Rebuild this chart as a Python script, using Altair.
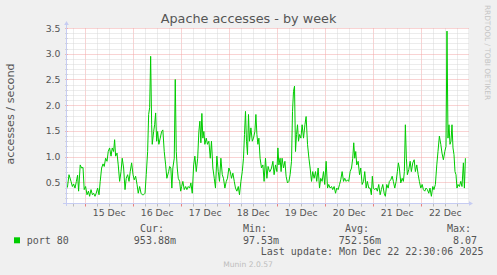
import altair as alt
import pandas as pd

# ---------------- data ----------------
# hours since 15 Dec 00:00
hours = [
    -8.6, -7.8, -6.8, -6.1, -5.5, -4.8, -4.1, -3.5, -3.0, -2.2, -1.5, -0.8, -0.2, 0.5, 1.2, 1.9, 2.5, 3.2, 3.9, 4.5,
    5.2, 5.8, 6.5, 7.2, 7.8, 8.5, 9.2, 9.8, 10.5, 11.2, 11.8, 12.5, 13.2, 13.8, 14.5, 15.0, 15.5, 16.2, 16.8, 17.5,
    18.2, 18.8, 19.5, 20.2, 20.8, 21.5, 22.2, 22.8, 23.5, 24.2, 24.8, 25.5, 26.2, 26.8, 27.5, 28.2, 28.8, 29.5, 30.2, 30.8,
    31.5, 32.0, 32.5, 33.0, 33.5, 33.8, 34.5, 35.0, 35.5, 36.0, 36.5, 37.1, 37.8, 38.5, 39.1, 39.8, 40.5, 41.1,
    42.0, 42.5, 43.1, 43.6, 44.1, 44.8, 45.3, 45.8, 46.3, 46.8, 47.5, 48.0, 48.5, 49.1, 49.8, 50.5, 51.1, 51.8, 52.5, 53.1,
    53.8, 54.5, 55.1, 55.8, 56.5, 57.1, 57.6, 58.1, 58.6, 59.1, 59.6, 60.1, 60.8, 61.4, 62.1, 62.8, 63.4, 64.1, 64.8, 65.4,
    66.1, 66.8, 67.4, 68.1, 68.8, 69.4, 70.1, 70.8, 71.4, 72.1, 72.8, 73.4, 74.1, 74.8, 75.4, 76.1, 76.8, 77.4, 78.1, 78.8,
    79.4, 79.9, 80.4, 80.9, 81.4, 81.9, 82.4, 83.1, 83.8, 84.4, 85.1, 85.6, 86.1, 86.6, 87.1, 87.7, 88.4, 89.1, 89.7, 90.4,
    91.1, 91.7, 92.4,
    92.7, 93.4, 94.1, 94.7, 95.4, 96.1, 96.6, 97.1, 97.7, 98.2, 98.7, 99.4, 100.1, 100.7, 101.4, 102.1, 102.7, 103.4, 103.9, 104.4,
    104.9, 105.4, 105.9, 106.4, 106.9, 107.4, 108.1, 108.7, 109.4, 110.1, 110.7, 111.4, 112.1, 112.7, 113.4, 114.0, 114.7, 115.4, 116.0, 116.7,
    117.4, 118.0, 118.7, 119.4, 120.0, 120.7, 121.4, 122.0, 122.7, 123.4, 124.0, 124.7, 125.4, 126.0, 126.7, 127.4, 128.0, 128.7, 129.4, 130.0,
    130.7, 131.4, 132.0, 132.7, 133.4, 134.0, 134.5, 135.0, 135.5, 136.0, 136.7, 137.4, 138.0, 138.7, 139.4, 140.0, 140.7, 141.3, 142.0,
    142.7, 143.3, 143.8, 144.3, 145.0, 145.7, 146.3, 147.0, 147.7, 148.3, 149.0, 149.7, 150.3, 151.0, 151.7, 152.3, 153.0, 153.7, 154.3, 155.0,
    155.7, 156.3, 156.8, 157.3, 158.0, 158.7, 159.3, 159.8, 160.3, 160.8, 161.3, 162.0, 162.7, 163.3, 164.0, 164.7, 165.3, 166.0, 166.7, 167.3,
    168.0, 168.7, 169.3, 170.0, 170.6, 171.3, 172.0, 172.6, 173.3, 174.0, 174.6, 175.3, 176.0, 176.6, 177.3, 178.0, 178.6, 179.3, 180.0, 180.6,
    181.1, 181.6, 182.1, 182.6, 183.1, 183.6, 184.1, 184.6, 185.1, 185.6, 186.1, 186.6, 187.3, 188.0, 188.6, 189.3, 189.8, 190.3,
]
rate = [
    0.40, 0.65, 0.52, 0.42, 0.47, 0.39, 0.52, 0.64, 0.33, 0.84, 0.78, 0.79, 0.36, 0.42, 0.26, 0.33, 0.23, 0.36, 0.26, 0.29,
    0.23, 0.29, 0.39, 0.26, 0.52, 0.78, 0.86, 0.81, 0.97, 0.91, 1.10, 1.17, 1.01, 1.17, 1.10, 1.33, 1.01, 1.07, 0.84, 0.52,
    0.71, 0.97, 0.78, 0.36, 0.58, 0.65, 0.52, 0.71, 0.88, 0.65, 0.55, 0.62, 0.46, 0.29, 0.42, 0.29, 0.26, 0.26, 0.29, 0.65,
    1.10, 1.82, 1.95, 2.95, 1.62, 1.24, 1.49, 1.62, 1.85, 1.30, 1.49, 1.24, 1.36, 1.49, 1.52, 1.10, 0.84, 0.58,
    0.71, 0.81, 0.78, 0.39, 0.78, 0.97, 2.50, 1.10, 0.78, 0.58, 0.52, 0.33, 0.42, 0.52, 0.36, 0.42, 0.36, 0.42, 0.39, 0.49,
    0.29, 0.84, 1.01, 0.71, 0.97, 1.49, 1.69, 1.27, 1.84, 1.36, 1.49, 1.24, 1.36, 1.24, 1.30, 0.97, 1.30, 0.78, 0.58, 0.39,
    1.01, 0.71, 0.52, 0.97, 0.65, 0.58, 0.39, 0.52, 0.58, 0.78, 0.71, 0.58, 0.68, 0.52, 0.39, 0.33, 0.42, 0.26, 0.52, 0.71,
    0.97, 1.43, 1.88, 1.30, 1.04, 1.82, 1.30, 1.56, 1.30, 1.36, 1.49, 1.82, 1.43, 1.24, 1.36, 0.97, 0.78, 0.84, 0.52, 0.97,
    0.58, 0.81, 0.71,
    0.71, 0.78, 0.91, 0.65, 0.84, 0.71, 1.17, 0.84, 0.97, 0.71, 0.97, 0.78, 0.91, 0.62, 0.49, 0.52, 0.65, 0.91, 1.88, 2.27,
    2.37, 1.10, 1.43, 1.62, 1.30, 1.43, 1.36, 1.62, 1.36, 1.62, 1.78, 1.24, 0.97, 0.78, 0.52, 0.71, 0.58, 0.71, 0.52, 0.78,
    0.39, 0.58, 0.52, 0.71, 0.46, 0.91, 0.39, 0.46, 0.39, 0.42, 0.36, 0.42, 0.29, 0.39, 0.36, 0.46, 0.55, 0.71, 0.52, 0.58,
    0.52, 0.55, 0.52, 0.71, 0.78, 0.97, 1.27, 0.97, 1.10, 0.84, 0.91, 0.65, 0.78, 0.46, 0.52, 0.71, 0.39, 0.52, 0.39,
    0.39, 0.26, 0.62, 0.39, 0.36, 0.39, 0.33, 0.46, 0.26, 0.36, 0.46, 0.29, 0.23, 0.46, 0.39, 0.52, 0.55, 0.62, 0.52, 0.39,
    0.52, 0.71, 0.88, 0.78, 0.49, 0.58, 0.52, 0.71, 1.62, 0.97, 0.65, 0.75, 0.91, 0.71, 0.88, 0.94, 0.71, 0.84, 0.65, 0.52,
    0.39, 0.46, 0.36, 0.33, 0.39, 0.36, 0.29, 0.39, 0.23, 0.42, 0.36, 0.46, 0.84, 1.10, 1.40, 1.24, 1.07, 0.94, 1.10, 1.20,
    3.44, 1.36, 1.62, 1.24, 1.30, 1.62, 1.17, 1.04, 0.71, 0.65, 0.39, 0.46, 0.42, 0.52, 0.42, 0.88, 0.39, 0.97,
]

day_labels = ["15 Dec", "16 Dec", "17 Dec", "18 Dec", "19 Dec", "20 Dec", "21 Dec", "22 Dec"]
title_text = "Apache accesses - by week"
y_title = "accesses / second"
series_name = "port 80"
stat_names = ["Cur:", "Min:", "Avg:", "Max:"]
stat_values = ["953.88m", "97.53m", "752.56m", "8.07"]
last_update = "Last update: Mon Dec 22 22:30:06 2025"
munin_mark = "Munin 2.0.57"
rrd_mark = "RRDTOOL / TOBI OETIKER"

# ---------------- layout ----------------
W, H = 401, 175
PAD = {"left": 67, "top": 28, "right": 497 - 67 - W, "bottom": 275 - 28 - H}
x_domain = [-8.8, 191.6]
y_domain = [0.1, 3.5]
x_ticks = list(range(-6, 192, 6))
y_ticks = [round(0.1 * i, 1) for i in range(1, 36)]

TXT = "#555555"
AXIS_COL = "#C6CCF2"
MINOR = "#D9D9D9"
MAJOR = "#F2A6A6"
GREEN = "#00CC00"

df = pd.DataFrame({"h": hours, "v": rate})

day_arr = "[" + ",".join("'%s'" % d for d in day_labels) + "]"
x_label_expr = "datum.value % 24 === 12 ? " + day_arr + "[floor(datum.value / 24)] : ''"
x_major = "datum.value % 24 === 0"
y_major = "round(datum.value * 10) % 5 === 0"

x_axis = alt.Axis(
    values=x_ticks, title=None, domain=False, grid=True,
    gridColor={"condition": {"test": x_major, "value": MAJOR}, "value": MINOR},
    gridDash=[1, 1], gridWidth=1,
    ticks=True, tickSize=3,
    tickColor={"condition": {"test": x_major, "value": "#E88080"}, "value": "#BBBBBB"},
    labelExpr=x_label_expr, labelFont="DejaVu Sans", labelFontSize=9.3,
    labelColor=TXT, labelPadding=2.6, labelOverlap=False, labelFlush=False,
    labelBaseline="top",
)
y_axis = alt.Axis(
    values=y_ticks, title=None, domain=False, grid=True,
    gridColor={"condition": {"test": y_major, "value": MAJOR}, "value": MINOR},
    gridDash=[1, 1], gridWidth=1,
    ticks=True, tickSize=2,
    tickColor={"condition": {"test": y_major, "value": "#E88080"}, "value": "#BBBBBB"},
    labelExpr=y_major + " ? format(datum.value, '.1f') : ''",
    labelFont="DejaVu Sans", labelFontSize=9.3, labelColor=TXT,
    labelPadding=5, labelOverlap=False, labelFlush=False,
)

line = alt.Chart(df).mark_line(color=GREEN, strokeWidth=1, clip=True).encode(
    x=alt.X("h:Q", scale=alt.Scale(domain=x_domain, nice=False, zero=False), axis=x_axis),
    y=alt.Y("v:Q", scale=alt.Scale(domain=y_domain, nice=False, zero=False), axis=y_axis),
)

one = pd.DataFrame({"k": [0]})


def text(s, x, y, size, color=TXT, font="DejaVu Sans", align="left", baseline="alphabetic", angle=0):
    return alt.Chart(pd.DataFrame({"t": [s]})).mark_text(
        align=align, baseline=baseline, font=font, fontSize=size, color=color, angle=angle
    ).encode(text="t:N", x=alt.value(x), y=alt.value(y))


mono = "DejaVu Sans Mono"
layers = [line]

# axis lines with arrows (decoration)
layers.append(alt.Chart(one).mark_rule(color=AXIS_COL, strokeWidth=1).encode(
    x=alt.value(-4), x2=alt.value(402), y=alt.value(175.5)))
layers.append(alt.Chart(one).mark_rule(color=AXIS_COL, strokeWidth=1).encode(
    x=alt.value(-0.5), y=alt.value(178), y2=alt.value(-5)))
layers.append(alt.Chart(one).mark_point(shape="triangle-up", filled=True, size=22, color=AXIS_COL, opacity=1).encode(
    x=alt.value(-0.5), y=alt.value(-5)))
layers.append(alt.Chart(one).mark_point(shape="triangle-right", filled=True, size=22, color=AXIS_COL, opacity=1).encode(
    x=alt.value(404), y=alt.value(175.5)))

# titles
layers.append(text(title_text, 181.5, -4.7, 12.8, align="center"))
layers.append(text(y_title, -56, 86, 11.2, align="center", baseline="middle", angle=270))
layers.append(text(rrd_mark, 420, 24.5, 7.4, color="#C4C4C4", align="center", baseline="middle", angle=90))

# legend
stat_x = [73, 176, 278, 380]
val_x = [109, 212, 314, 410]
for name, xx in zip(stat_names, stat_x):
    layers.append(text(name, xx, 203.5, 10, font=mono))
for val, xx in zip(stat_values, val_x):
    layers.append(text(val, xx, 215.5, 10, font=mono, align="right"))
layers.append(alt.Chart(one).mark_square(size=36, color=GREEN, filled=True, opacity=1).encode(
    x=alt.value(-50), y=alt.value(212.3)))
layers.append(text(series_name, -40.3, 215.5, 10, font=mono))
layers.append(text(last_update, 416.5, 227.3, 10, font=mono, align="right"))
layers.append(text(munin_mark, 181, 238.5, 7.6, color="#BDBDBD", align="center"))

chart = alt.layer(*layers).properties(
    width=W, height=H,
    autosize=alt.AutoSizeParams(type="none"),
    padding=PAD,
    background="#F0F0F0",
).configure_view(fill="white", stroke=None)

chart.save("out.html", embed_options={"renderer": "svg", "actions": False})
